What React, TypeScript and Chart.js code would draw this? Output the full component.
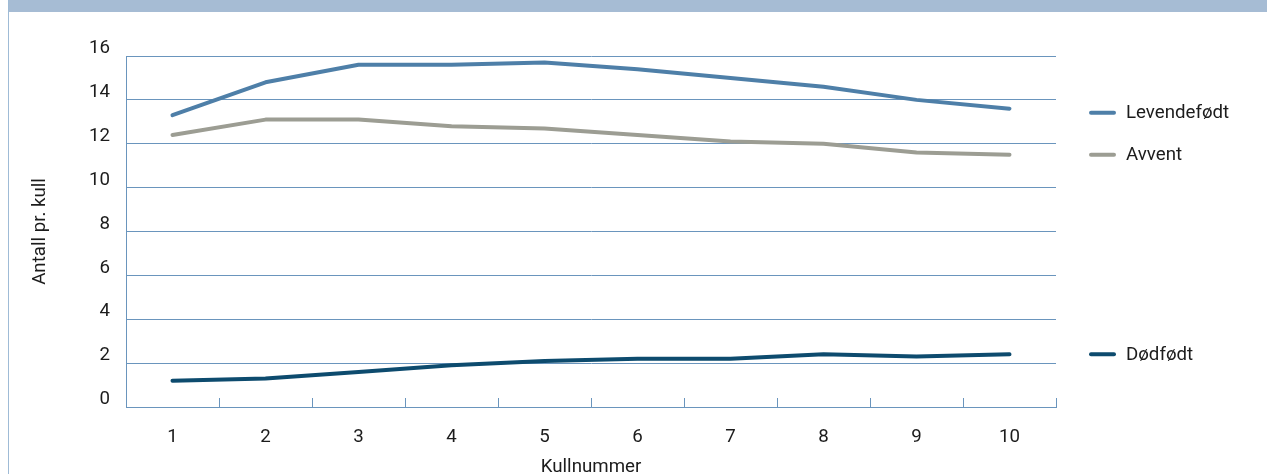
import React, { useEffect, useRef } from "react";
import { Chart, registerables } from "chart.js";

Chart.register(...registerables);

const categories = ["1", "2", "3", "4", "5", "6", "7", "8", "9", "10"];
const levendefodt = [13.3, 14.8, 15.6, 15.6, 15.7, 15.4, 15.0, 14.6, 14.0, 13.6];
const avvent = [12.4, 13.1, 13.1, 12.8, 12.7, 12.4, 12.1, 12.0, 11.6, 11.5];
const dodfodt = [1.2, 1.3, 1.6, 1.9, 2.1, 2.2, 2.2, 2.4, 2.3, 2.4];
const seriesNames = ["Levendefødt", "Avvent", "Dødfødt"];
const seriesColors = ["#4e7fa8", "#9c9d93", "#0d4b6e"];
const yTitle = "Antall pr. kull";
const xTitle = "Kullnummer";

const FONT = "Roboto";
const FS = 18.7;
const GRID = "#6a95bd";
const TEXT = "#1c1c1c";
const LABEL_NUDGE = [4, 0, 0];

const endLabels = {
  id: "endLabels",
  afterDatasetsDraw(chart: any) {
    const { ctx, chartArea } = chart;
    const y = chart.scales.y;
    ctx.save();
    chart.data.datasets.forEach((ds: any, i: number) => {
      const v = ds.data[ds.data.length - 1];
      const py = y.getPixelForValue(v) + (LABEL_NUDGE[i] || 0);
      ctx.strokeStyle = ds.borderColor;
      ctx.lineWidth = 4;
      ctx.lineCap = "round";
      ctx.beginPath();
      ctx.moveTo(chartArea.right + 35, py);
      ctx.lineTo(chartArea.right + 58, py);
      ctx.stroke();
      ctx.fillStyle = TEXT;
      ctx.font = `${FS}px ${FONT}`;
      ctx.textBaseline = "middle";
      ctx.textAlign = "left";
      ctx.fillText(ds.label, chartArea.right + 70, py + 1);
    });
    ctx.restore();
  },
};

const xTicks = {
  id: "xTicks",
  afterDraw(chart: any) {
    const { ctx, chartArea } = chart;
    const x = chart.scales.x;
    const n = chart.data.labels.length;
    ctx.save();
    ctx.strokeStyle = GRID;
    ctx.lineWidth = 1;
    for (let i = 0; i < n; i++) {
      const a = x.getPixelForValue(i);
      const b = i < n - 1 ? x.getPixelForValue(i + 1) : a + (a - x.getPixelForValue(i - 1));
      const px = Math.round((a + b) / 2) + 0.5;
      ctx.beginPath();
      ctx.moveTo(px, chartArea.bottom);
      ctx.lineTo(px, chartArea.bottom - 9);
      ctx.stroke();
    }
    ctx.restore();
  },
};

export default function App() {
  const ref = useRef<HTMLCanvasElement>(null);
  useEffect(() => {
    document.body.style.overflow = "hidden";
    const chart = new Chart(ref.current as HTMLCanvasElement, {
      type: "line",
      data: {
        labels: categories,
        datasets: [levendefodt, avvent, dodfodt].map((d, i) => ({
          label: seriesNames[i],
          data: d,
          borderColor: seriesColors[i],
          backgroundColor: seriesColors[i],
          borderWidth: 4,
          pointRadius: 0,
          tension: 0,
          borderCapStyle: "round" as const,
          borderJoinStyle: "round" as const,
        })),
      },
      options: {
        animation: false,
        responsive: false,
        maintainAspectRatio: false,
        layout: { padding: { left: 0, right: 211, top: 44, bottom: 0 } },
        plugins: { legend: { display: false }, tooltip: { enabled: false } },
        scales: {
          x: {
            offset: true,
            grid: { display: true, color: "rgba(0,0,0,0)", drawTicks: false, offset: true },
            border: { display: true, color: GRID, width: 1 },
            ticks: { color: TEXT, font: { family: FONT, size: FS }, padding: 19, maxRotation: 0 },
            title: {
              display: true,
              text: xTitle,
              color: TEXT,
              font: { family: FONT, size: FS, lineHeight: 0.75 },
              padding: { top: 0, bottom: 0 },
            },
            afterFit: (s: any) => {
              s.height = 67;
            },
          },
          y: {
            min: 0,
            max: 16,
            ticks: {
              stepSize: 2,
              color: TEXT,
              font: { family: FONT, size: FS },
              padding: 16,
              labelOffset: -7.5,
            },
            grid: { color: GRID, lineWidth: 1, drawTicks: false },
            border: { display: true, color: GRID, width: 1 },
            title: {
              display: true,
              text: yTitle,
              color: TEXT,
              font: { family: FONT, size: FS },
              padding: { top: 20, bottom: 0 },
            },
            afterFit: (s: any) => {
              s.width = 117;
            },
          },
        },
      },
      plugins: [endLabels, xTicks],
    });
    return () => chart.destroy();
  }, []);

  return (
    <div
      style={{
        position: "fixed",
        left: 8,
        top: 0,
        width: 1259,
        height: 474,
        borderLeft: "1px solid #9fbbd6",
        background: "#fff",
        overflow: "hidden",
      }}
    >
      <div style={{ position: "absolute", left: -1, top: 0, width: 1260, height: 12, background: "#a6bcd4" }} />
      <canvas
        ref={ref}
        width={1258}
        height={462}
        style={{ position: "absolute", left: 0, top: 12, width: 1258, height: 462 }}
      />
    </div>
  );
}
